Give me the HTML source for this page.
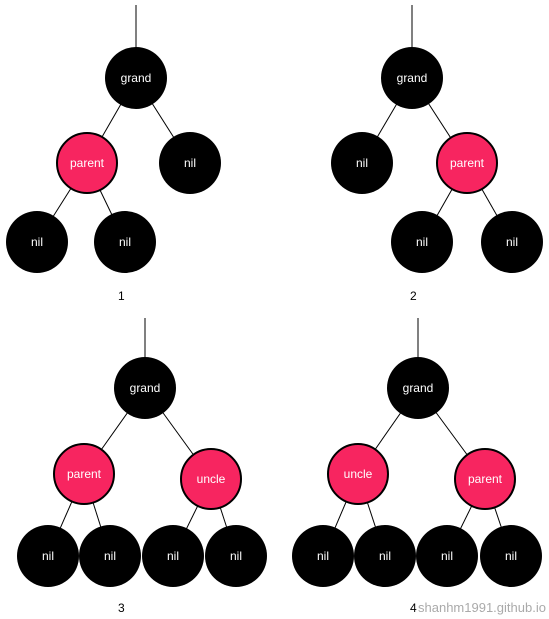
<!DOCTYPE html>
<html><head><meta charset="utf-8"><style>
html,body{margin:0;padding:0;background:#fff;}
svg{display:block;font-family:"Liberation Sans",sans-serif;}
</style></head><body>
<svg id="s" width="549" height="619" viewBox="0 0 549 619"></svg>
<script>
const trees = [
 {label:"1", lx:118, ly:300, top:[136,5], nodes:[["grand",136,78,"b"],["parent",87,163,"r"],["nil",190,163,"b"],["nil",37,242,"b"],["nil",125,242,"b"]], edges:[[0,1],[0,2],[1,3],[1,4]]},
 {label:"2", lx:410, ly:300, top:[412,5], nodes:[["grand",412,78,"b"],["nil",362,163,"b"],["parent",467,163,"r"],["nil",422,242,"b"],["nil",512,242,"b"]], edges:[[0,1],[0,2],[2,3],[2,4]]},
 {label:"3", lx:118, ly:612, top:[145,318], nodes:[["grand",145,388,"b"],["parent",84,474,"r"],["uncle",211,479,"r"],["nil",48,556,"b"],["nil",110,556,"b"],["nil",173,556,"b"],["nil",236,556,"b"]], edges:[[0,1],[0,2],[1,3],[1,4],[2,5],[2,6]]},
 {label:"4", lx:410, ly:612, top:[418,318], nodes:[["grand",418,388,"b"],["uncle",358,474,"r"],["parent",485,479,"r"],["nil",323,556,"b"],["nil",385,556,"b"],["nil",447,556,"b"],["nil",511,556,"b"]], edges:[[0,1],[0,2],[1,3],[1,4],[2,5],[2,6]]}
];
const NS="http://www.w3.org/2000/svg";
const svg=document.getElementById('s');
function mk(t,a){const e=document.createElementNS(NS,t);for(const k in a)e.setAttribute(k,a[k]);return e;}
trees.forEach((tr,ti)=>{
 const g=mk('g',{});
 
 
 const n0=tr.nodes[0];
 const tl=mk('line',{x1:tr.top[0],y1:tr.top[1],x2:n0[1],y2:n0[2],stroke:'#000','stroke-width':1});
 
 
 g.appendChild(tl);
 tr.edges.forEach(e=>{
  const a=tr.nodes[e[0]],b=tr.nodes[e[1]];
  const l=mk('line',{x1:a[1],y1:a[2],x2:b[1],y2:b[2],stroke:'#000','stroke-width':1});
  
  
  g.appendChild(l);
 });
 tr.nodes.forEach(n=>{
  const ng=mk('g',{});
  
  
  const red=n[3]==='r';
  ng.appendChild(mk('circle',{cx:n[1],cy:n[2],r:red?30:31,fill:red?'#f72560':'#000',stroke:'#000','stroke-width':red?2:0}));
  const t=mk('text',{x:n[1],y:n[2]+4,'text-anchor':'middle','font-size':12,fill:'#fff'});
  t.textContent=n[0];
  ng.appendChild(t);
  g.appendChild(ng);
 });
 const lb=mk('text',{x:tr.lx,y:tr.ly,'font-size':12,fill:'#000'});
 lb.textContent=tr.label;
 
 
 g.appendChild(lb);
 svg.appendChild(g);
});
const wm=mk('text',{x:418,y:612,'font-size':13,fill:'#aaa'});
wm.textContent='shanhm1991.github.io';


svg.appendChild(wm);
</script>
</body></html>
